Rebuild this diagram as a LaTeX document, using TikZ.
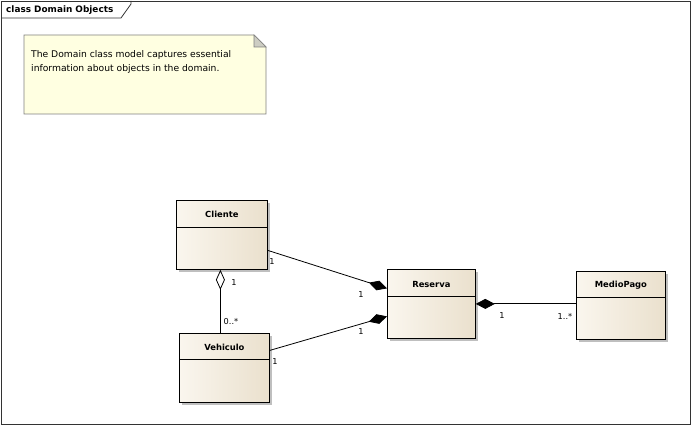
\documentclass[tikz,border=0pt]{standalone}
\usepackage{fontspec}
\setmainfont{DejaVu Sans}
\usetikzlibrary{arrows.meta,calc,shadows}

\definecolor{clsLight}{RGB}{250,246,238}
\definecolor{clsDark}{RGB}{234,224,205}
\definecolor{noteFill}{RGB}{255,255,225}
\definecolor{noteEdge}{RGB}{128,128,128}
\definecolor{foldFill}{RGB}{205,205,195}

\tikzset{
  cls/.style={draw=black, line width=0.8pt, anchor=north west,
    left color=clsLight, right color=clsDark, inner sep=0pt,
    drop shadow={shadow xshift=3pt, shadow yshift=-3pt, fill=black!25, opacity=1}},
  clsname/.style={font=\bfseries\fontsize{8.4}{10}\selectfont, inner sep=0pt},
  mult/.style={font=\fontsize{8.2}{10}\selectfont, inner sep=0pt},
  assoc/.style={draw=black, line width=0.8pt},
  compo/.style={-{Diamond[length=19pt,width=10pt,fill=black]}},
  compostart/.style={{Diamond[length=19pt,width=10pt,fill=black]}-},
  aggr/.style={{Diamond[open,length=20pt,width=9pt,fill=white]}-},
}

\begin{document}
\begin{tikzpicture}[x=1pt,y=-1pt]
  \useasboundingbox (0,0) rectangle (691,427);
  \fill[white] (0,0) rectangle (691,427);

  % diagram frame with its name tab
  \draw[line width=0.8pt, black!80] (1,1) rectangle (690,424);
  \draw[line width=0.8pt, black!80] (1,18) -- (121,18) -- (131,4) -- (131,1);
  \node[font=\bfseries\fontsize{8.9}{10}\selectfont, anchor=west, inner sep=0pt]
    (frametitle) at (6,10) {class Domain Objects};

  % note
  \path[fill=noteFill, draw=noteEdge, line width=0.8pt]
    (24,35) -- (254,35) -- (266,47) -- (266,114) -- (24,114) -- cycle;
  \path[fill=foldFill, draw=noteEdge, line width=0.6pt]
    (254,35) -- (254,47) -- (266,47) -- cycle;
  \node[anchor=north west, align=left, inner sep=0pt,
        font=\fontsize{9.2}{14}\selectfont] (notetext) at (31,50)
    {The Domain class model captures essential\\information about objects in the domain.};

  % classes
  \node[cls, minimum width=91pt, minimum height=69pt] (cliente) at (176,200) {};
  \node[cls, minimum width=90pt, minimum height=69pt] (vehiculo) at (179,333) {};
  \node[cls, minimum width=88pt, minimum height=69pt] (reserva) at (387,269) {};
  \node[cls, minimum width=89pt, minimum height=68pt] (mediopago) at (576,271) {};

  % compartment dividers
  \draw[line width=0.8pt] ($(cliente.north west)+(0,27)$) -- ($(cliente.north east)+(0,27)$);
  \draw[line width=0.8pt] ($(vehiculo.north west)+(0,26)$) -- ($(vehiculo.north east)+(0,26)$);
  \draw[line width=0.8pt] ($(reserva.north west)+(0,27)$) -- ($(reserva.north east)+(0,27)$);
  \draw[line width=0.8pt] ($(mediopago.north west)+(0,26)$) -- ($(mediopago.north east)+(0,26)$);

  % class names
  \node[clsname] (clienteName) at ($(cliente.north)+(0,14)$) {Cliente};
  \node[clsname] (vehiculoName) at ($(vehiculo.north)+(0,14)$) {Vehiculo};
  \node[clsname] (reservaName) at ($(reserva.north)+(0,15)$) {Reserva};
  \node[clsname] (mediopagoName) at ($(mediopago.north)+(0,14)$) {MedioPago};

  % associations
  \draw[assoc, compo] ([yshift=-15.5pt]cliente.east) -- ([yshift=15.5pt]reserva.west);
  \draw[assoc, compo] ([yshift=17.5pt]vehiculo.east) -- ([yshift=-12.5pt]reserva.west);
  \draw[assoc, aggr] ([xshift=-1.5pt]cliente.south) -- ([xshift=-4pt]vehiculo.north);
  \draw[assoc, compostart] (reserva.east) -- (reserva.east -| mediopago.west);

  % multiplicities
  \node[mult] (m1) at (272,262) {1};
  \node[mult] (m2) at (361,295) {1};
  \node[mult] (m3) at (275,362) {1};
  \node[mult] (m4) at (361,332) {1};
  \node[mult] (m5) at (234,283) {1};
  \node[mult] (m6) at (231,322) {0..*};
  \node[mult] (m7) at (502,316) {1};
  \node[mult] (m8) at (565,316) {1..*};
\end{tikzpicture}
\end{document}
